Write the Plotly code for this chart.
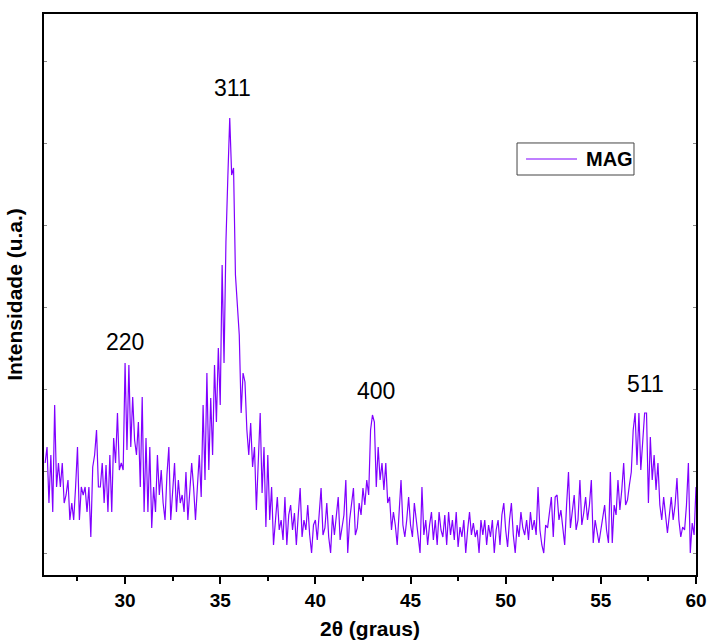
import numpy as np
import plotly.graph_objects as go

# XRD pattern of magnetite (MAG), 2-theta from 25.8 to 60.0 in 0.1 degree steps
two_theta_start = 25.8
two_theta_step = 0.1
intensity = [
    # 25.8 - 34.3
    112, 128, 72, 120, 63, 170, 88, 112, 88, 112,
    72, 80, 95, 55, 72, 55, 88, 128, 55, 88,
    80, 88, 63, 88, 38, 108, 120, 145, 88, 88,
    112, 72, 110, 63, 120, 63, 137, 112, 162, 105,
    112, 105, 212, 125, 210, 128, 178, 135, 120, 153,
    88, 178, 63, 137, 63, 128, 47, 88, 63, 120,
    80, 105, 72, 55, 100, 128, 55, 80, 112, 63,
    95, 72, 80, 63, 103, 55, 88, 112, 88, 55,
    88, 120, 78, 170, 95, 202,
    # 34.4 - 37.9
    105, 177, 120, 210, 153, 227,
    170, 310, 212, 333, 398, 457, 400, 407, 300, 268,
    240, 162, 202, 193, 145, 120, 152, 108, 128, 65,
    120, 162, 82, 128, 48, 120, 55, 88, 30, 57,
    # 38.0 - 45.5
    78, 45, 55, 35, 78, 30, 60, 70, 45, 62,
    30, 60, 87, 38, 55, 45, 70, 40, 22, 50,
    55, 35, 65, 87, 40, 47, 72, 38, 22, 60,
    40, 62, 78, 35, 47, 60, 95, 22, 55, 70,
    87, 40, 47, 72, 60, 87, 70, 95, 80, 145,
    160, 153, 88, 128, 95, 112, 85, 112, 72, 78,
    45, 63, 50, 30, 60, 95, 50, 38, 55, 78,
    50, 38, 72, 55, 38, 22,
    # 45.6 - 53.3
    88, 40, 55, 30,
    50, 63, 35, 55, 30, 63, 45, 38, 60, 30,
    63, 40, 55, 35, 63, 28, 48, 38, 55, 22,
    45, 63, 40, 52, 38, 45, 22, 55, 40, 55,
    30, 50, 38, 55, 22, 45, 55, 30, 60, 72,
    45, 28, 55, 72, 40, 22, 50, 38, 63, 47,
    40, 55, 35, 63, 45, 55, 40, 88, 45, 30,
    22, 50, 47, 60, 78, 38, 78, 80, 55, 65,
    45, 30, 70, 103,
    # 53.4 - 60.0
    47, 65, 80, 45, 55, 95,
    50, 62, 78, 55, 70, 95, 32, 55, 45, 32,
    45, 60, 70, 45, 32, 103, 32, 70, 60, 95,
    65, 85, 112, 70, 75, 90, 103, 145, 162, 110,
    162, 105, 140, 162, 162, 72, 138, 95, 120, 85,
    112, 70, 55, 78, 60, 42, 60, 78, 55, 70,
    97, 55, 38, 48, 45, 70, 112, 22, 52, 40,
    88,
]
assert len(intensity) == 343, len(intensity)
two_theta = np.round(two_theta_start + two_theta_step * np.arange(len(intensity)), 2)

# Miller indices of the reflections and where their labels sit
peak_labels = ["220", "311", "400", "511"]
peak_label_x = [30.0, 35.63, 43.21, 57.37]
peak_label_y = [233, 487, 184, 191]

x_ticks = [30, 35, 40, 45, 50, 55, 60]
y_ticks = [22, 104, 186, 268, 350, 432, 514]

series_name = "MAG"
line_color = "#8000FF"

FONT = "Liberation Sans, Arial, sans-serif"

fig = go.Figure()
fig.add_trace(go.Scatter(
    x=two_theta, y=intensity, mode="lines", name=series_name,
    line=dict(color=line_color, width=1.2), showlegend=False,
))

for lab, lx, ly in zip(peak_labels, peak_label_x, peak_label_y):
    fig.add_annotation(x=lx, y=ly, xref="x", yref="y", text=lab, showarrow=False,
                       font=dict(family=FONT, size=23, color="black"))

# boxed legend key in the upper right of the plot area
fig.add_shape(type="rect", xref="paper", yref="paper",
              x0=0.7255, x1=0.9049, y0=0.7130, y1=0.7701,
              line=dict(color="#444", width=1), fillcolor="white")
fig.add_shape(type="line", xref="paper", yref="paper",
              x0=0.7393, x1=0.8175, y0=0.7415, y1=0.7415,
              line=dict(color=line_color, width=1.2))
fig.add_annotation(x=0.8282, y=0.7415, xref="paper", yref="paper",
                   xanchor="left", yanchor="middle", text=series_name, showarrow=False,
                   font=dict(family=FONT, size=20, color="black", weight="bold"))

fig.update_layout(
    width=708, height=644,
    margin=dict(l=44, r=12, t=14, b=69),
    paper_bgcolor="white", plot_bgcolor="white",
    showlegend=False,
    xaxis=dict(
        range=[25.74, 60], tickvals=x_ticks, ticks="outside", ticklen=7, tickwidth=2,
        tickcolor="black", showline=True, linewidth=2, linecolor="black", mirror=True,
        showgrid=False, zeroline=False, automargin=False,
        minor=dict(dtick=2.5, tick0=25, ticks="outside", ticklen=4, tickwidth=1.5, tickcolor="black"),
        tickfont=dict(family=FONT, size=19, color="black", weight="bold"),
        title=dict(text="2θ (graus)", standoff=12,
                   font=dict(family=FONT, size=21, color="black", weight="bold")),
    ),
    yaxis=dict(
        range=[0, 561], tickvals=y_ticks, ticks="inside", ticklen=3, tickwidth=1,
        tickcolor="#888", showticklabels=False, showline=True, linewidth=2,
        linecolor="black", mirror="ticks", showgrid=False, zeroline=False, automargin=False,
        title=dict(text="Intensidade (u.a.)", standoff=14,
                   font=dict(family=FONT, size=21, color="black", weight="bold")),
    ),
)

fig.write_html("out.html")
